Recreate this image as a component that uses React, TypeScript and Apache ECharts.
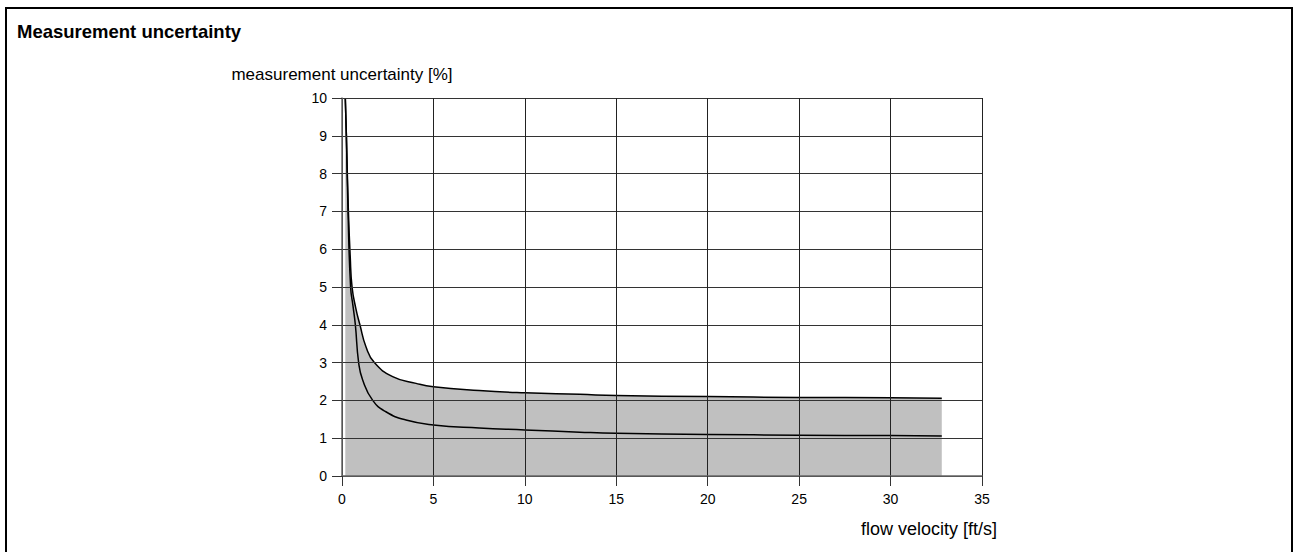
import React, { useEffect, useRef } from "react";
import * as echarts from "echarts";

const title = "Measurement uncertainty";
const yAxisName = "measurement uncertainty [%]";
const xAxisName = "flow velocity [ft/s]";

const upperX = [0.18, 0.24, 0.35, 0.45, 0.55, 0.75, 0.98, 1.31, 1.77, 2.77, 4.05, 5, 7.5, 10, 13, 15, 20, 25, 30, 32.8];
const upperY = [10, 9, 7, 5.8, 5, 4.45, 4, 3.42, 3.0, 2.63, 2.45, 2.36, 2.26, 2.2, 2.16, 2.13, 2.1, 2.08, 2.07, 2.06];

const lowerX = [0.18, 0.24, 0.33, 0.47, 0.6, 0.73, 0.91, 1.13, 1.68, 2.4, 3.5, 5, 7.5, 10, 13, 15, 20, 25, 30, 32.8];
const lowerY = [10, 9, 7, 5, 4.5, 4, 3, 2.54, 2.0, 1.7, 1.48, 1.35, 1.27, 1.22, 1.16, 1.13, 1.1, 1.08, 1.07, 1.06];

const FONT = "'Liberation Sans', Arial, sans-serif";

export default function App() {
  const ref = useRef<HTMLDivElement>(null);
  useEffect(() => {
    if (!ref.current) return;
    const chart = echarts.init(ref.current, null, { renderer: "svg" });
    const upper = upperX.map((x, i) => [x, upperY[i]]);
    const lower = lowerX.map((x, i) => [x, lowerY[i]]);
    chart.setOption({
      animation: false,
      backgroundColor: "#ffffff",
      textStyle: { fontFamily: FONT },
      title: {
        text: title,
        left: 17,
        top: 22,
        padding: 0,
        textStyle: { fontSize: 18.5, fontWeight: "bold", color: "#000", fontFamily: FONT },
      },
      grid: { left: 342, top: 98, width: 640, height: 378 },
      xAxis: {
        type: "value",
        min: 0,
        max: 35,
        interval: 5,
        z: 5,
        axisLine: { show: true, lineStyle: { color: "#666", width: 1.5 } },
        axisTick: { show: true, length: 10, lineStyle: { color: "#333" } },
        axisLabel: { fontSize: 14, color: "#000", margin: 16, fontFamily: FONT },
        splitLine: { show: true, lineStyle: { color: "#222", width: 1 } },
      },
      yAxis: {
        type: "value",
        min: 0,
        max: 10,
        interval: 1,
        z: 5,
        name: yAxisName,
        nameLocation: "end",
        nameGap: 15,
        nameTextStyle: { fontSize: 17, color: "#000", fontFamily: FONT, align: "center" },
        axisLine: { show: true, lineStyle: { color: "#666", width: 1.5 } },
        axisTick: { show: true, length: 10, lineStyle: { color: "#333" } },
        axisLabel: { fontSize: 14, color: "#000", margin: 15, fontFamily: FONT },
        splitLine: { show: true, lineStyle: { color: "#333", width: 1 } },
      },
      series: [
        {
          type: "line",
          data: upper,
          smooth: 0.5,
          showSymbol: false,
          lineStyle: { color: "#000", width: 1.5 },
          areaStyle: { color: "#c0c0c0", opacity: 1 },
          z: 2,
        },
        {
          type: "line",
          data: lower,
          smooth: 0.5,
          showSymbol: false,
          lineStyle: { color: "#000", width: 1.5 },
          z: 3,
        },
      ],
      graphic: [
        {
          type: "rect",
          shape: { x: 6, y: 8, width: 1286, height: 600 },
          style: { fill: "none", stroke: "#000", lineWidth: 2 },
          silent: true,
        },
        {
          type: "text",
          x: 997,
          y: 529,
          style: {
            text: xAxisName,
            fontSize: 18,
            fontFamily: FONT,
            fill: "#000",
            textAlign: "right",
            textVerticalAlign: "middle",
          },
        },
      ],
    });
    return () => chart.dispose();
  }, []);
  return (
    <div
      ref={ref}
      style={{ position: "absolute", left: 0, top: 0, width: 1293, height: 552 }}
    />
  );
}
